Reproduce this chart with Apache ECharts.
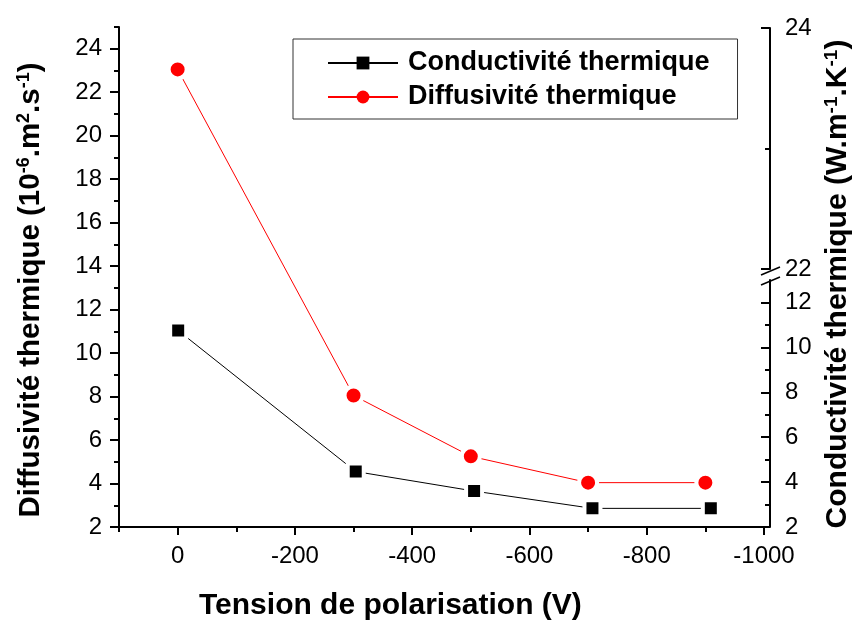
<!DOCTYPE html>
<html>
<head>
<meta charset="utf-8">
<script src="https://cdn.jsdelivr.net/npm/echarts@6/dist/echarts.min.js"></script>
<style>
  html, body { margin: 0; padding: 0; background: #fff; }
  #chart { width: 861px; height: 626px; }
</style>
</head>
<body>
<div id="chart"></div>
<script>
// Bias voltage (V) and measured thermal properties
const voltages = [0, -300, -500, -700, -900];
const conductivite = [10.75, 4.47, 3.6, 2.83, 2.83];   // W.m-1.K-1 (right axis)
const diffusivite = [23.05, 8.05, 5.25, 4.04, 4.04];   // 10-6 m2.s-1 (left axis)

// Tick positions
const xMajorTicks = [0, -200, -400, -600, -800, -1000];
const xMinorTicks = [100, -100, -300, -500, -700, -900];
const leftMajorTicks = [2, 4, 6, 8, 10, 12, 14, 16, 18, 20, 22, 24];
const leftMinorTicks = [3, 5, 7, 9, 11, 13, 15, 17, 19, 21, 23, 25];
const rightLowMajorTicks = [2, 4, 6, 8, 10, 12];
const rightLowMinorTicks = [3, 5, 7, 9, 11];
const rightHighMajorTicks = [22, 24];
const rightHighMinorTicks = [23];

const FONT = 'Liberation Sans';
const LEFT = 119, RIGHT = 91, BOTTOM = 99;

const chart = echarts.init(document.getElementById('chart'), null, { renderer: 'canvas' });

const axisLineStyle = { color: '#000', width: 2 };
const tickStyle = { color: '#000', width: 2 };
const labelStyle = { color: '#000', fontSize: 24, fontFamily: FONT, formatter: v => String(v) };

// rich text styles for the rotated axis titles (b = body, s = superscript)
function titleRich(size) {
  return {
    b: { fontSize: size, fontWeight: 'bold', fontFamily: FONT, color: '#000', lineHeight: size + 2 },
    s: { fontSize: Math.round(size * 0.62), fontWeight: 'bold', fontFamily: FONT, color: '#000',
         lineHeight: Math.round(size * 0.62), verticalAlign: 'top' }
  };
}

const xBase = { type: 'value', min: -1000, max: 100, inverse: true, splitLine: { show: false } };
const yLine = { show: true, onZero: false, lineStyle: axisLineStyle };
const noLine = { show: false, onZero: false };

const option = {
  animation: false,
  backgroundColor: '#fff',
  title: {
    text: 'Tension de polarisation (V)',
    left: 199,
    top: 591,
    padding: 0,
    textStyle: { fontSize: 30, fontWeight: 'bold', fontFamily: FONT, color: '#000' }
  },
  legend: {
    orient: 'vertical',
    left: 293,
    top: 39,
    padding: [10, 28, 8, 34],
    itemWidth: 70,
    itemHeight: 16,
    itemGap: 6,
    borderColor: '#333',
    borderWidth: 1,
    itemStyle: { borderWidth: 0 },
    textStyle: { fontSize: 27, fontWeight: 'bold', fontFamily: FONT, color: '#000', lineHeight: 28, padding: [0, 0, 0, 5] },
    data: ['Conductivité thermique', 'Diffusivité thermique']
  },
  grid: [
    { left: LEFT, right: RIGHT, top: 27, bottom: BOTTOM },     // main plot
    { left: LEFT, right: RIGHT, top: 280, bottom: BOTTOM },    // right axis, lower segment
    { left: LEFT, right: RIGHT, top: 28, bottom: 357 }         // right axis, upper segment
  ],
  xAxis: [
    Object.assign({}, xBase, {
      gridIndex: 0, position: 'bottom',
      axisLine: { show: true, onZero: false, lineStyle: axisLineStyle },
      axisTick: { show: true, length: 8, lineStyle: tickStyle, customValues: xMajorTicks },
      axisLabel: Object.assign({ margin: 17, customValues: xMajorTicks }, labelStyle)
    }),
    Object.assign({}, xBase, {
      gridIndex: 0, position: 'bottom',
      axisLine: noLine,
      axisTick: { show: true, length: 5, lineStyle: tickStyle, customValues: xMinorTicks },
      axisLabel: { show: false }
    }),
    Object.assign({}, xBase, { gridIndex: 1, show: false, axisLine: noLine }),
    Object.assign({}, xBase, { gridIndex: 2, show: false, axisLine: noLine })
  ],
  yAxis: [
    { // 0: diffusivity, left
      type: 'value', gridIndex: 0, position: 'left', min: 2, max: 25,
      splitLine: { show: false },
      axisLine: yLine,
      axisTick: { show: true, length: 9, lineStyle: tickStyle, customValues: leftMajorTicks },
      axisLabel: Object.assign({ margin: 17, customValues: leftMajorTicks }, labelStyle),
      name: '{b|Diffusivité thermique (10}{s|-6}{b|.m}{s|2}{b|.s}{s|-1}{b|)}',
      nameLocation: 'middle', nameRotate: 90, nameGap: 72,
      nameTextStyle: { rich: titleRich(29.5), padding: [0, 26, 0, 0] }
    },
    { // 1: left minor ticks
      type: 'value', gridIndex: 0, position: 'left', min: 2, max: 25,
      splitLine: { show: false }, axisLine: noLine,
      axisTick: { show: true, length: 5, lineStyle: tickStyle, customValues: leftMinorTicks },
      axisLabel: { show: false }
    },
    { // 2: right-side title over the full plot height
      type: 'value', gridIndex: 0, position: 'right', min: 2, max: 25,
      splitLine: { show: false }, axisLine: noLine, axisTick: { show: false }, axisLabel: { show: false },
      name: '{b|Conductivité thermique (W.m}{s|-1}{b|.K}{s|-1}{b|)}',
      nameLocation: 'middle', nameRotate: 90, nameGap: 58,
      nameTextStyle: { rich: titleRich(30), padding: [0, 14, 0, 0] }
    },
    { // 3: conductivity, right lower segment
      type: 'value', gridIndex: 1, position: 'right', min: 2, max: 13,
      splitLine: { show: false },
      axisLine: yLine,
      axisTick: { show: true, inside: true, length: 9, lineStyle: tickStyle, customValues: rightLowMajorTicks },
      axisLabel: Object.assign({ margin: 15, customValues: rightLowMajorTicks }, labelStyle)
    },
    { // 4: right lower minor ticks
      type: 'value', gridIndex: 1, position: 'right', min: 2, max: 13,
      splitLine: { show: false }, axisLine: noLine,
      axisTick: { show: true, inside: true, length: 5, lineStyle: tickStyle, customValues: rightLowMinorTicks },
      axisLabel: { show: false }
    },
    { // 5: right upper segment
      type: 'value', gridIndex: 2, position: 'right', min: 22, max: 24,
      splitLine: { show: false },
      axisLine: yLine,
      axisTick: { show: true, inside: true, length: 9, lineStyle: tickStyle, customValues: rightHighMajorTicks },
      axisLabel: Object.assign({ margin: 15, customValues: rightHighMajorTicks }, labelStyle)
    },
    { // 6: right upper minor ticks
      type: 'value', gridIndex: 2, position: 'right', min: 22, max: 24,
      splitLine: { show: false }, axisLine: noLine,
      axisTick: { show: true, inside: true, length: 5, lineStyle: tickStyle, customValues: rightHighMinorTicks },
      axisLabel: { show: false }
    }
  ],
  // axis break marks on the right axis
  graphic: [
    { type: 'line', shape: { x1: 761, y1: 275, x2: 780, y2: 267 }, style: { stroke: '#000', lineWidth: 1.5 }, z: 100 },
    { type: 'line', shape: { x1: 761, y1: 285, x2: 780, y2: 277 }, style: { stroke: '#000', lineWidth: 1.5 }, z: 100 }
  ],
  series: [
    {
      name: 'Conductivité thermique',
      type: 'line',
      xAxisIndex: 2,
      yAxisIndex: 3,
      data: voltages.map((v, i) => [v, conductivite[i]]),
      symbol: 'rect',
      symbolSize: 16,
      itemStyle: { color: '#000', borderColor: '#fff', borderWidth: 4 },
      lineStyle: { color: '#000', width: 1 },
      clip: false,
      silent: true,
      z: 3
    },
    {
      name: 'Diffusivité thermique',
      type: 'line',
      xAxisIndex: 0,
      yAxisIndex: 0,
      data: voltages.map((v, i) => [v, diffusivite[i]]),
      symbol: 'circle',
      symbolSize: 18,
      itemStyle: { color: '#ff0000', borderColor: '#fff', borderWidth: 4 },
      lineStyle: { color: '#ff0000', width: 1 },
      clip: false,
      silent: true,
      z: 3
    }
  ]
};

chart.setOption(option);
</script>
</body>
</html>
